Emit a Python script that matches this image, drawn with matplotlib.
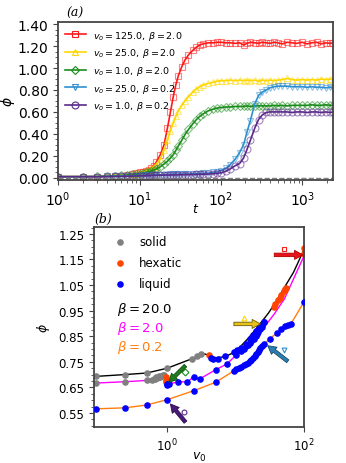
import matplotlib
matplotlib.use("Agg")
import matplotlib.pyplot as plt
from matplotlib.ticker import AutoMinorLocator, FormatStrFormatter, NullLocator
from matplotlib.lines import Line2D

# ---------------- panel (a): phi(t) ----------------
t = [1, 2, 3, 4, 5, 6, 7, 8, 9, 10, 11, 12, 13, 14, 15, 16, 18, 20, 22, 24,
     26, 28, 30, 33, 36, 40, 45, 50, 55, 60, 70, 80, 90, 100, 115, 130, 150, 170, 190, 210,
     230, 260, 290, 320, 360, 400, 450, 500, 570, 650, 750, 850, 1000, 1150, 1300, 1500, 1700, 1950, 2200, 2400]

phi_red = [0.01, 0.01, 0.01, 0.015, 0.02, 0.02, 0.025, 0.03, 0.04, 0.05, 0.055, 0.065, 0.075, 0.09, 0.11, 0.14, 0.21, 0.30, 0.45, 0.60,
           0.74, 0.85, 0.93, 1.01, 1.07, 1.12, 1.16, 1.19, 1.21, 1.22, 1.23, 1.23, 1.235, 1.235, 1.23, 1.23, 1.225, 1.23, 1.21, 1.225,
           1.235, 1.23, 1.225, 1.235, 1.23, 1.225, 1.235, 1.23, 1.22, 1.235, 1.23, 1.225, 1.235, 1.22, 1.23, 1.235, 1.22, 1.23, 1.225, 1.23]
phi_yel = [0.01, 0.01, 0.01, 0.015, 0.02, 0.02, 0.025, 0.03, 0.035, 0.045, 0.05, 0.06, 0.07, 0.085, 0.10, 0.12, 0.17, 0.25, 0.34, 0.43,
           0.50, 0.56, 0.61, 0.66, 0.70, 0.74, 0.78, 0.81, 0.83, 0.845, 0.86, 0.87, 0.88, 0.885, 0.885, 0.89, 0.885, 0.89, 0.885, 0.89,
           0.885, 0.89, 0.88, 0.89, 0.885, 0.89, 0.885, 0.89, 0.895, 0.905, 0.895, 0.89, 0.895, 0.89, 0.895, 0.89, 0.90, 0.895, 0.90, 0.895]
phi_grn = [0.01, 0.01, 0.012, 0.015, 0.02, 0.022, 0.025, 0.03, 0.033, 0.038, 0.042, 0.048, 0.055, 0.062, 0.07, 0.08, 0.10, 0.125, 0.15, 0.18,
           0.21, 0.25, 0.29, 0.34, 0.39, 0.44, 0.49, 0.53, 0.56, 0.58, 0.61, 0.625, 0.635, 0.64, 0.645, 0.645, 0.65, 0.65, 0.65, 0.655,
           0.65, 0.655, 0.655, 0.655, 0.655, 0.655, 0.66, 0.655, 0.66, 0.655, 0.66, 0.66, 0.66, 0.66, 0.665, 0.66, 0.66, 0.665, 0.66, 0.66]
phi_blu = [0.01, 0.01, 0.01, 0.012, 0.013, 0.015, 0.016, 0.017, 0.018, 0.02, 0.021, 0.022, 0.023, 0.024, 0.025, 0.026, 0.027, 0.028, 0.029, 0.03,
           0.03, 0.031, 0.031, 0.032, 0.033, 0.034, 0.035, 0.036, 0.038, 0.04, 0.043, 0.048, 0.055, 0.065, 0.085, 0.12, 0.17, 0.23, 0.30, 0.42,
           0.52, 0.67, 0.75, 0.78, 0.80, 0.82, 0.83, 0.835, 0.835, 0.835, 0.83, 0.83, 0.83, 0.825, 0.83, 0.825, 0.825, 0.82, 0.825, 0.82]
phi_pur = [0.01, 0.01, 0.01, 0.01, 0.012, 0.013, 0.014, 0.015, 0.016, 0.017, 0.018, 0.019, 0.02, 0.021, 0.022, 0.022, 0.023, 0.024, 0.025, 0.025,
           0.026, 0.026, 0.027, 0.027, 0.028, 0.028, 0.029, 0.03, 0.031, 0.032, 0.034, 0.037, 0.04, 0.045, 0.06, 0.08, 0.11, 0.13, 0.18, 0.26,
           0.34, 0.45, 0.53, 0.57, 0.595, 0.60, 0.60, 0.60, 0.60, 0.60, 0.595, 0.60, 0.60, 0.595, 0.60, 0.60, 0.595, 0.60, 0.595, 0.60]

series_a = [phi_red, phi_yel, phi_grn, phi_blu, phi_pur]
labels_a = [r"$v_o = 125.0,\, \beta = 2.0$", r"$v_o = 25.0,\, \beta = 2.0$", r"$v_o = 1.0,\, \beta = 2.0$",
            r"$v_o = 25.0,\, \beta = 0.2$", r"$v_o = 1.0,\, \beta = 0.2$"]
colors_a = ["#ff1a1a", "#ffd700", "#1a8c1a", "#2f8fd0", "#5a2a8a"]
markers_a = ["s", "^", "D", "v", "o"]
msizes_a = [5, 5, 4, 5, 5]

# ---------------- panel (b): phi(v0) ----------------
b20_v = [0.092, 0.24, 0.5, 1.0, 2.4, 3.5, 4.0, 5.0, 7.0, 10, 15, 20, 30, 40, 50, 70, 100]
b20_phi = [0.693, 0.70, 0.706, 0.725, 0.764, 0.781, 0.775, 0.765, 0.77, 0.79, 0.84, 0.88, 0.94, 0.99, 1.035, 1.10, 1.19]
b2_v = [0.092, 0.24, 0.5, 0.62, 0.7, 0.8, 0.9, 0.95, 1.0, 1.45, 1.95, 2.44, 2.98, 5.1, 7.5, 11.8, 18.6, 26, 36.6, 51.5, 100]
b2_phi = [0.667, 0.672, 0.677, 0.68, 0.686, 0.691, 0.697, 0.69, 0.663, 0.671, 0.672, 0.69, 0.683, 0.719, 0.742, 0.794, 0.84,
          0.885, 0.937, 0.996, 1.165]
b02_v = [0.092, 0.24, 0.5, 1.0, 2.44, 5.1, 9.45, 15.7, 26, 46, 64, 100]
b02_phi = [0.566, 0.57, 0.581, 0.602, 0.637, 0.67, 0.715, 0.748, 0.82, 0.878, 0.898, 0.985]

solid_v = [0.092, 0.24, 0.5, 1.0, 2.3, 2.7, 3.1,
           0.092, 0.24, 0.5, 0.6, 0.63, 0.66, 0.68, 0.7, 0.74, 0.75, 0.78, 0.82, 0.86, 0.9]
solid_phi = [0.693, 0.70, 0.706, 0.726, 0.762, 0.774, 0.782,
             0.667, 0.672, 0.677, 0.679, 0.681, 0.683, 0.69, 0.686, 0.689, 0.694, 0.692, 0.695, 0.698, 0.70]
hex_v = [0.95, 0.95, 0.95, 4.0, 36, 38, 41, 44, 46, 50, 52, 54, 100, 100]
hex_phi = [0.69, 0.68, 0.672, 0.775, 0.965, 0.975, 0.99, 1.0, 1.01, 1.025, 1.035, 1.04, 1.195, 1.172]
liq_v = [0.98, 1.0, 1.02, 1.05, 1.45, 1.95, 2.44, 2.98, 5.1, 7.5, 10, 11.8, 13, 14, 15, 16, 17, 18.6, 19.5, 20.5, 21.5, 22.5, 24, 26,
         4.4, 4.7, 5.5, 7, 9.5, 10.5, 12, 14, 16, 18, 20, 22, 24, 26,
         0.092, 0.24, 0.5, 1.0, 2.44, 5.1, 9.5, 10.2, 11, 12, 13, 14, 15, 16, 17, 18, 19, 20, 21, 22, 23, 24, 26,
         32, 40, 46, 52, 58, 64, 100]
liq_phi = [0.663, 0.661, 0.665, 0.663, 0.671, 0.672, 0.69, 0.683, 0.719, 0.742, 0.775, 0.794, 0.80, 0.81, 0.815, 0.822, 0.83, 0.84,
           0.85, 0.86, 0.868, 0.877, 0.885, 0.905,
           0.766, 0.76, 0.76, 0.773, 0.79, 0.795, 0.805, 0.82, 0.84, 0.855, 0.87, 0.885, 0.895, 0.905,
           0.566, 0.57, 0.581, 0.602, 0.637, 0.67, 0.715, 0.72, 0.725, 0.73, 0.736, 0.742, 0.746, 0.752, 0.758, 0.765, 0.772, 0.78,
           0.787, 0.795, 0.802, 0.81, 0.82, 0.84, 0.862, 0.878, 0.888, 0.893, 0.898, 0.985]

# arrows: (tail, tip, marker position) in data coordinates
arrow_tail = [(36.6, 1.168), (9.4, 0.898), (1.84, 0.735), (57.6, 0.752), (1.84, 0.514)]
arrow_tip = [(96, 1.168), (23, 0.898), (1.05, 0.67), (29.3, 0.813), (1.11, 0.585)]
arrow_mark = [(50, 1.19), (13, 0.92), (1.8, 0.709), (51.5, 0.796), (1.78, 0.553)]
arrow_face = ["#e8141c", "#e8c21a", "#1f7a1f", "#2a7fb0", "#4a1a7a"]
arrow_edge = ["#b00000", "#6b5a00", "#0f4f0f", "#1a4a6a", "#2a0a4a"]

fig = plt.figure(figsize=(3.46, 4.64), dpi=100)
spine_col = "#444444"

ax1 = fig.add_axes([0.168, 0.610, 0.795, 0.3405])
for i in range(len(series_a)):
    ax1.plot(t, series_a[i], color=colors_a[i], lw=0, marker=markers_a[i], ms=msizes_a[i],
             mfc="none", mec=colors_a[i], mew=0.8, alpha=0.55)
    ax1.plot(t, series_a[i], color=colors_a[i], lw=1.2)
handles = [Line2D([], [], color=colors_a[i], lw=1.2, marker=markers_a[i], ms=msizes_a[i],
                  mfc="none", mec=colors_a[i], mew=0.8) for i in range(5)]
ax1.legend(handles, labels_a, loc="upper left", fontsize=6.8, frameon=False,
           labelspacing=0.5, handlelength=2.2, borderaxespad=0.3)
ax1.axhline(0, color="gray", ls="--", lw=1)
ax1.set_xscale("log")
ax1.set_xlim(1, 2400)
ax1.set_ylim(-0.02, 1.42)
ax1.set_yticks([0, 0.2, 0.4, 0.6, 0.8, 1.0, 1.2, 1.4])
ax1.yaxis.set_major_formatter(FormatStrFormatter("%.2f"))
ax1.yaxis.set_minor_locator(AutoMinorLocator(4))
ax1.tick_params(labelsize=10, color=spine_col)
ax1.tick_params(which="minor", color=spine_col)
ax1.set_xlabel(r"$t$", fontsize=9)
ax1.xaxis.set_label_coords(0.5, -0.14)
ax1.set_ylabel(r"$\phi$", fontsize=10)
ax1.yaxis.set_label_coords(-0.15, 0.5)
for s in ax1.spines.values():
    s.set_color(spine_col)
    s.set_linewidth(1.3)
ax1.text(0.03, 1.02, "(a)", transform=ax1.transAxes, fontsize=9,
         family="DejaVu Serif", style="italic", va="bottom")

ax2 = fig.add_axes([0.272, 0.0776, 0.607, 0.431])
ax2.plot(b20_v, b20_phi, color="black", lw=1.0, zorder=1)
ax2.plot(b2_v, b2_phi, color="#ff00ff", lw=1.0, zorder=1)
ax2.plot(b02_v, b02_phi, color="#ff7f0e", lw=1.0, zorder=1)
ax2.scatter(solid_v, solid_phi, s=14, color="gray", label="solid", zorder=2)
ax2.scatter(hex_v, hex_phi, s=14, color="#ff4500", label="hexatic", zorder=2)
ax2.scatter(liq_v, liq_phi, s=14, color="#0000ff", label="liquid", zorder=3)
for i in range(5):
    ax2.annotate("", xy=arrow_tip[i], xytext=arrow_tail[i],
                 arrowprops=dict(facecolor=arrow_face[i], edgecolor=arrow_edge[i], lw=0.6,
                                 width=2.5, headwidth=6.5, headlength=6, shrink=0), zorder=4)
    ax2.plot(*arrow_mark[i], marker=markers_a[i], ms=3.5, mfc="none", mec=colors_a[i], mew=0.8)
ax2.legend(loc="upper left", fontsize=8.5, frameon=False, handletextpad=0.6,
           labelspacing=0.65, borderaxespad=0.3, bbox_to_anchor=(0.03, 1.0), markerscale=1.0)
ax2.text(0.11, 0.595, r"$\beta = 20.0$", transform=ax2.transAxes, fontsize=9.5, color="black", va="center")
ax2.text(0.11, 0.50, r"$\beta = 2.0$", transform=ax2.transAxes, fontsize=9.5, color="#ff00ff", va="center")
ax2.text(0.11, 0.40, r"$\beta = 0.2$", transform=ax2.transAxes, fontsize=9.5, color="#ff7f0e", va="center")
ax2.set_xscale("log")
ax2.set_xlim(0.085, 100)
ax2.set_ylim(0.495, 1.277)
ax2.set_xticks([1, 100])
ax2.xaxis.set_minor_locator(NullLocator())
ax2.set_yticks([0.55, 0.65, 0.75, 0.85, 0.95, 1.05, 1.15, 1.25])
ax2.yaxis.set_major_formatter(FormatStrFormatter("%.2f"))
ax2.yaxis.set_minor_locator(AutoMinorLocator(4))
ax2.tick_params(labelsize=8.5, color=spine_col)
ax2.tick_params(which="minor", color=spine_col)
ax2.set_xlabel(r"$v_0$", fontsize=9)
ax2.xaxis.set_label_coords(0.5, -0.115)
ax2.set_ylabel(r"$\phi$", fontsize=9)
ax2.yaxis.set_label_coords(-0.2, 0.5)
for s in ax2.spines.values():
    s.set_color(spine_col)
    s.set_linewidth(1.3)
ax2.text(0.0, 1.01, "(b)", transform=ax2.transAxes, fontsize=9,
         family="DejaVu Serif", style="italic", va="bottom")

fig.savefig("out.png", dpi=100)
